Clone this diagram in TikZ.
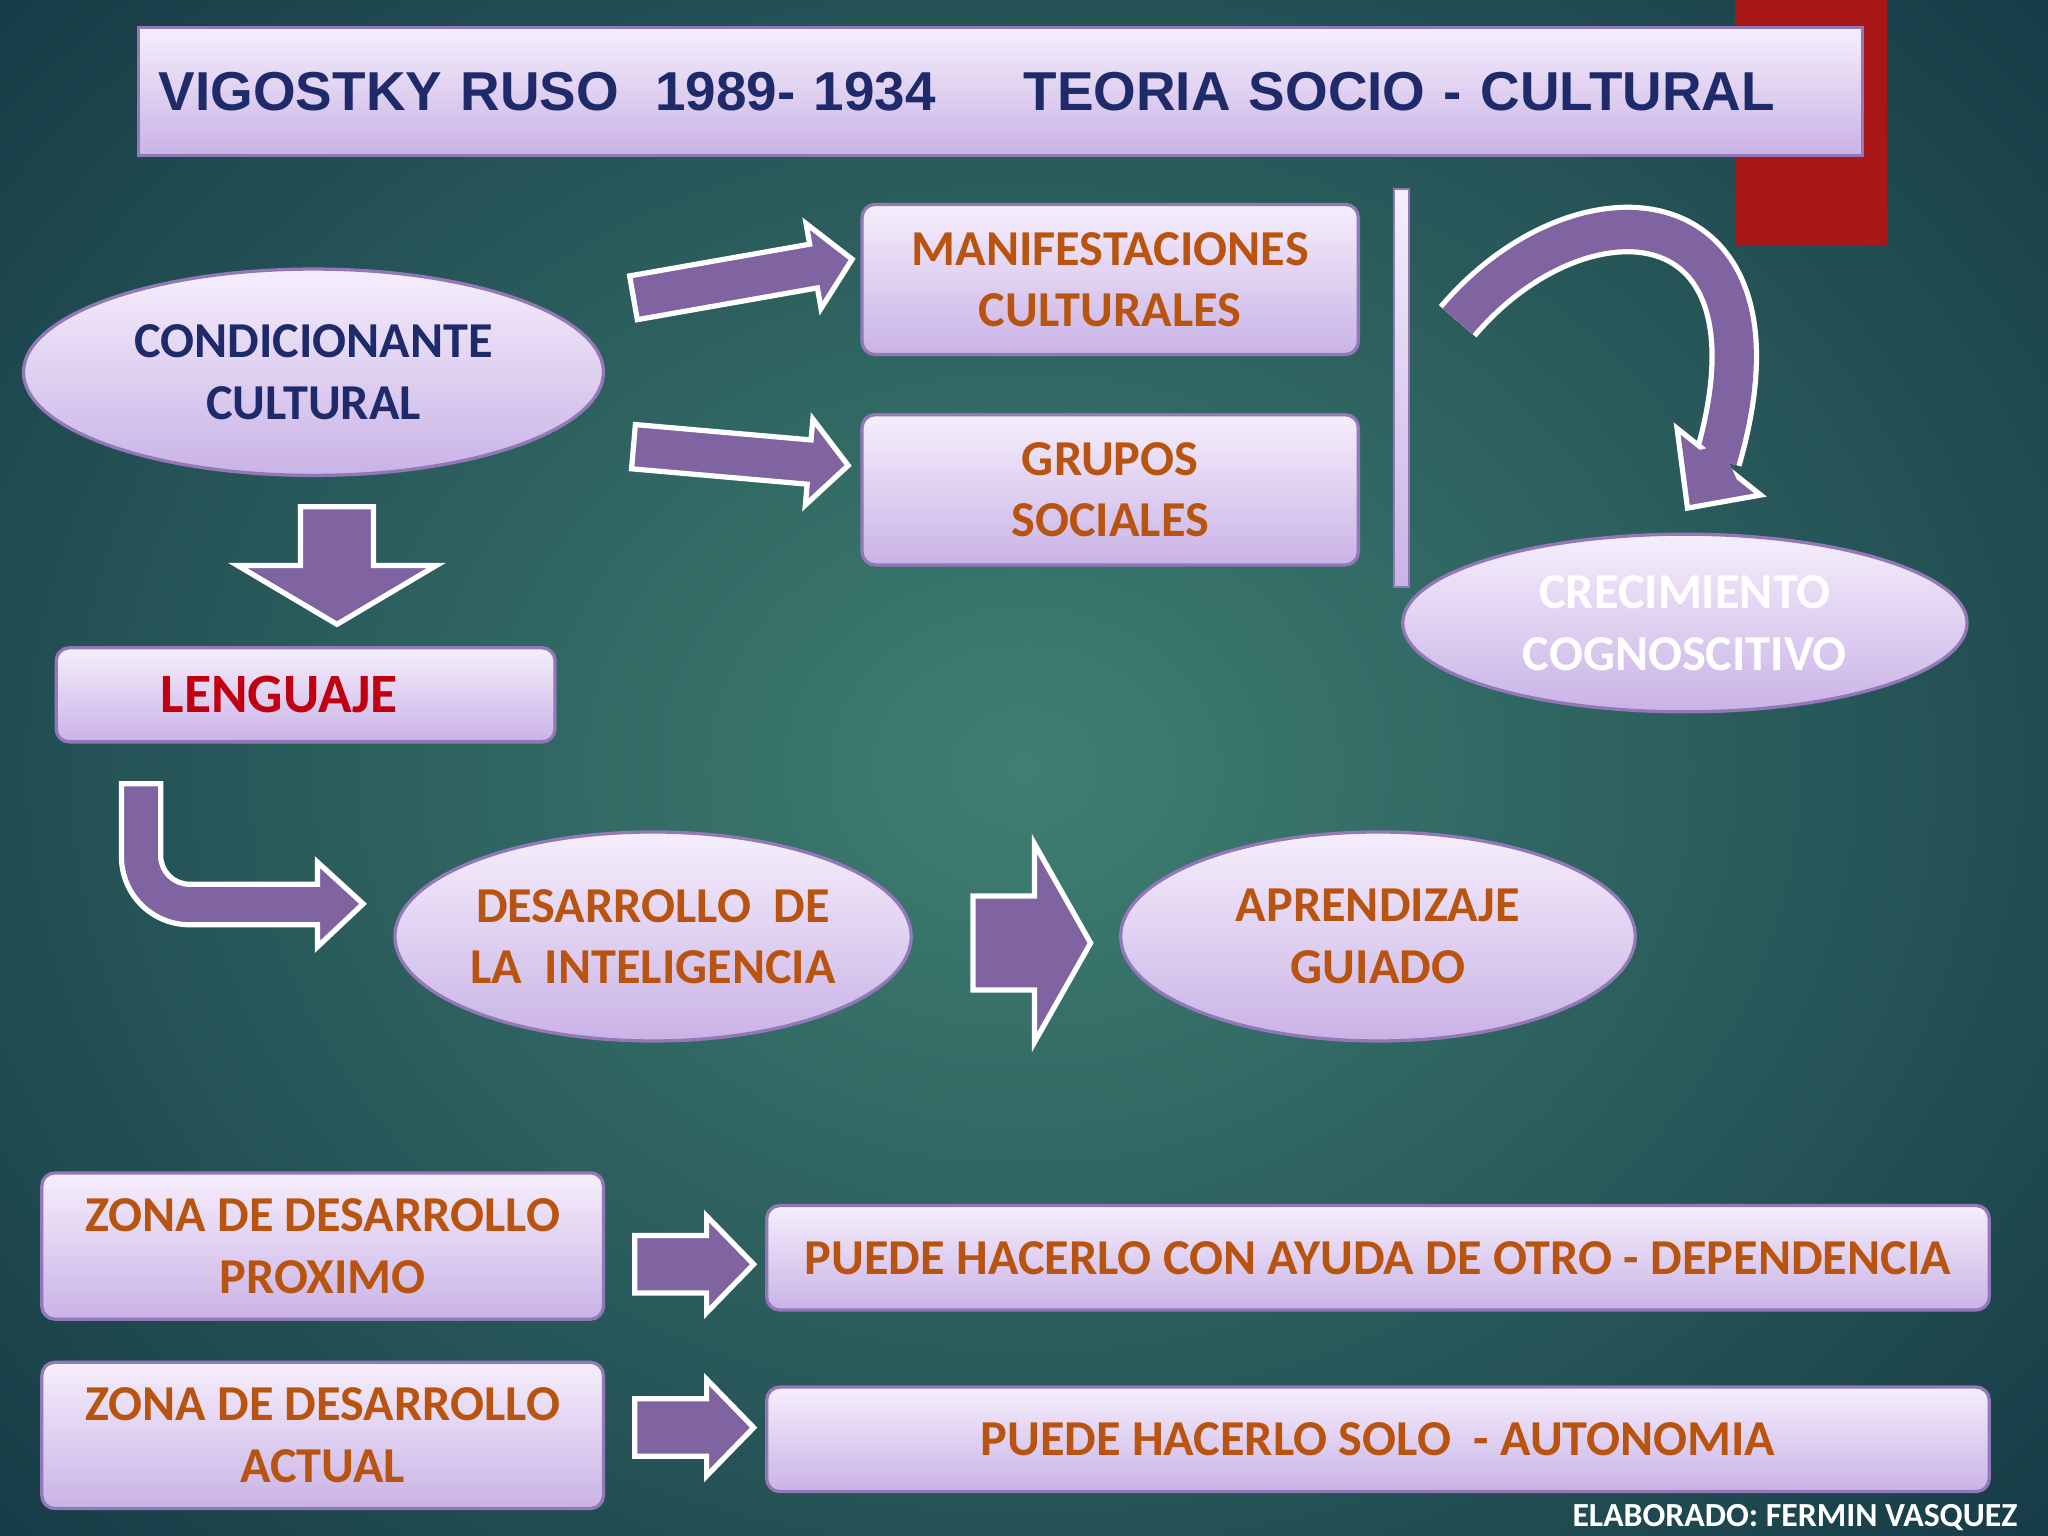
\documentclass[tikz,border=0pt]{standalone}
\usepackage{fontspec}
\setmainfont{Carlito}
\newfontfamily\titlefont{Liberation Sans}
\usetikzlibrary{shapes.geometric}
\definecolor{apurple}{HTML}{8064A2}
\definecolor{bord}{HTML}{9278B8}
\definecolor{navy}{HTML}{1F2A6B}
\definecolor{orng}{HTML}{B8540F}
\definecolor{lred}{HTML}{C00010}
\definecolor{bgin}{HTML}{3F7F72}
\definecolor{bgout}{HTML}{163A46}
\definecolor{boxtop}{HTML}{F6EEFC}
\definecolor{boxbot}{HTML}{C9B3E6}
\definecolor{dred}{HTML}{A81618}
\tikzset{
 lbox/.style={draw=bord, line width=2.5*0.01306cm, rounded corners=10*0.01306cm, top color=boxtop, bottom color=boxbot, inner sep=0pt, align=center, font=\bfseries\fontsize{14.3}{17.5}\selectfont, text=orng},
 lell/.style={lbox, ellipse, rounded corners=0pt},
 parrow/.style={fill=apurple, draw=white, line width=4*0.01306cm, line join=miter},
}
\newcommand\blockarrow[7]{% x y angle L s h hl
 \begin{scope}[shift={(#1,#2)}, rotate=#3]
 \draw[parrow] (0,-#5)--(#4-#7,-#5)--(#4-#7,-#6)--(#4,0)--(#4-#7,#6)--(#4-#7,#5)--(0,#5)--cycle;
 \end{scope}}
\begin{document}
\begin{tikzpicture}[x=0.01306cm, y=-0.01306cm]
\useasboundingbox (0,0) rectangle (1568,1176);
\shade[inner color=bgin, outer color=bgout] (-300,-300) rectangle (1868,1476);
\fill[dred] (1328,0) rectangle (1445,188);
% title
\node[lbox, rounded corners=0pt, minimum width=1320*0.01306cm, minimum height=98*0.01306cm, text=navy, font=\titlefont\bfseries\fontsize{15.6}{19}\selectfont, anchor=north west, text width=1300*0.01306cm, align=left] (title) at (105,20) {\hspace*{2pt}VIGOSTKY RUSO\ \ 1989- 1934\hspace{1.6em}TEORIA SOCIO - CULTURAL};
% nodes
\node[lell, minimum width=444*0.01306cm, minimum height=158*0.01306cm, text=navy] (cond) at (240,285) {CONDICIONANTE\\CULTURAL};
\node[lbox, minimum width=380*0.01306cm, minimum height=115*0.01306cm] (manif) at (850,214) {MANIFESTACIONES\\CULTURALES};
\node[lbox, minimum width=380*0.01306cm, minimum height=115*0.01306cm] (grup) at (850,375) {GRUPOS\\SOCIALES};
\node[lbox, rounded corners=0pt, minimum width=11*0.01306cm, minimum height=305*0.01306cm, line width=1.5*0.01306cm] (bar) at (1073,297) {};
\node[lell, minimum width=432*0.01306cm, minimum height=136*0.01306cm, text=white] (crec) at (1290,477) {CRECIMIENTO\\COGNOSCITIVO};
\node[lbox, minimum width=382*0.01306cm, minimum height=72*0.01306cm, text=lred, font=\bfseries\fontsize{15.8}{18}\selectfont] (leng) at (234,532) {\hspace*{-15pt}LENGUAJE};
\node[lell, minimum width=394*0.01306cm, minimum height=160*0.01306cm] (desa) at (500,717) {DESARROLLO\ \ DE\\LA\ \ INTELIGENCIA};
\node[lell, minimum width=394*0.01306cm, minimum height=160*0.01306cm] (apre) at (1055,717) {APRENDIZAJE\\GUIADO};
\node[lbox, minimum width=430*0.01306cm, minimum height=112*0.01306cm] (zdp) at (247,954) {ZONA DE DESARROLLO\\PROXIMO};
\node[lbox, minimum width=936*0.01306cm, minimum height=80*0.01306cm] (p1) at (1055,963) {PUEDE HACERLO CON AYUDA DE OTRO - DEPENDENCIA};
\node[lbox, minimum width=430*0.01306cm, minimum height=112*0.01306cm] (zda) at (247,1099) {ZONA DE DESARROLLO\\ACTUAL};
\node[lbox, minimum width=936*0.01306cm, minimum height=80*0.01306cm] (p2) at (1055,1102) {PUEDE HACERLO SOLO\ \ - AUTONOMIA};
\node[anchor=east, text=white, font=\bfseries\fontsize{9.6}{11}\selectfont] (foot) at (1554,1162) {ELABORADO: FERMIN VASQUEZ};
% block arrows
\blockarrow{485}{228}{10}{170}{17}{33}{30}
\blockarrow{485}{342}{-5}{165}{17}{33}{30}
\blockarrow{258}{388}{-90}{90}{28}{76}{45}
\blockarrow{745}{722}{0}{90}{36}{76}{43}
\blockarrow{486}{968}{0}{91}{22}{37}{36}
\blockarrow{486}{1093}{0}{91}{22}{37}{36}
% bent arrow
\draw[parrow] (93,600)--(123,600)--(123,655) arc(180:90:22) -- (243,677)--(243,660)--(278,692)--(243,725)--(243,708)--(145,708) arc(90:180:52) -- cycle;
% curved arrow
\draw[white, line width=38*0.01306cm] (1116,246) .. controls (1210,135) and (1375,145) .. (1315,352);
\draw[apurple, line width=30*0.01306cm] (1116,246) .. controls (1210,135) and (1375,145) .. (1315,352);
\draw[parrow] (1284,328)--(1348,379)--(1292,389)--cycle;
\fill[apurple] (1300,345)--(1330,368)--(1318,340)--cycle;
\end{tikzpicture}
\end{document}
